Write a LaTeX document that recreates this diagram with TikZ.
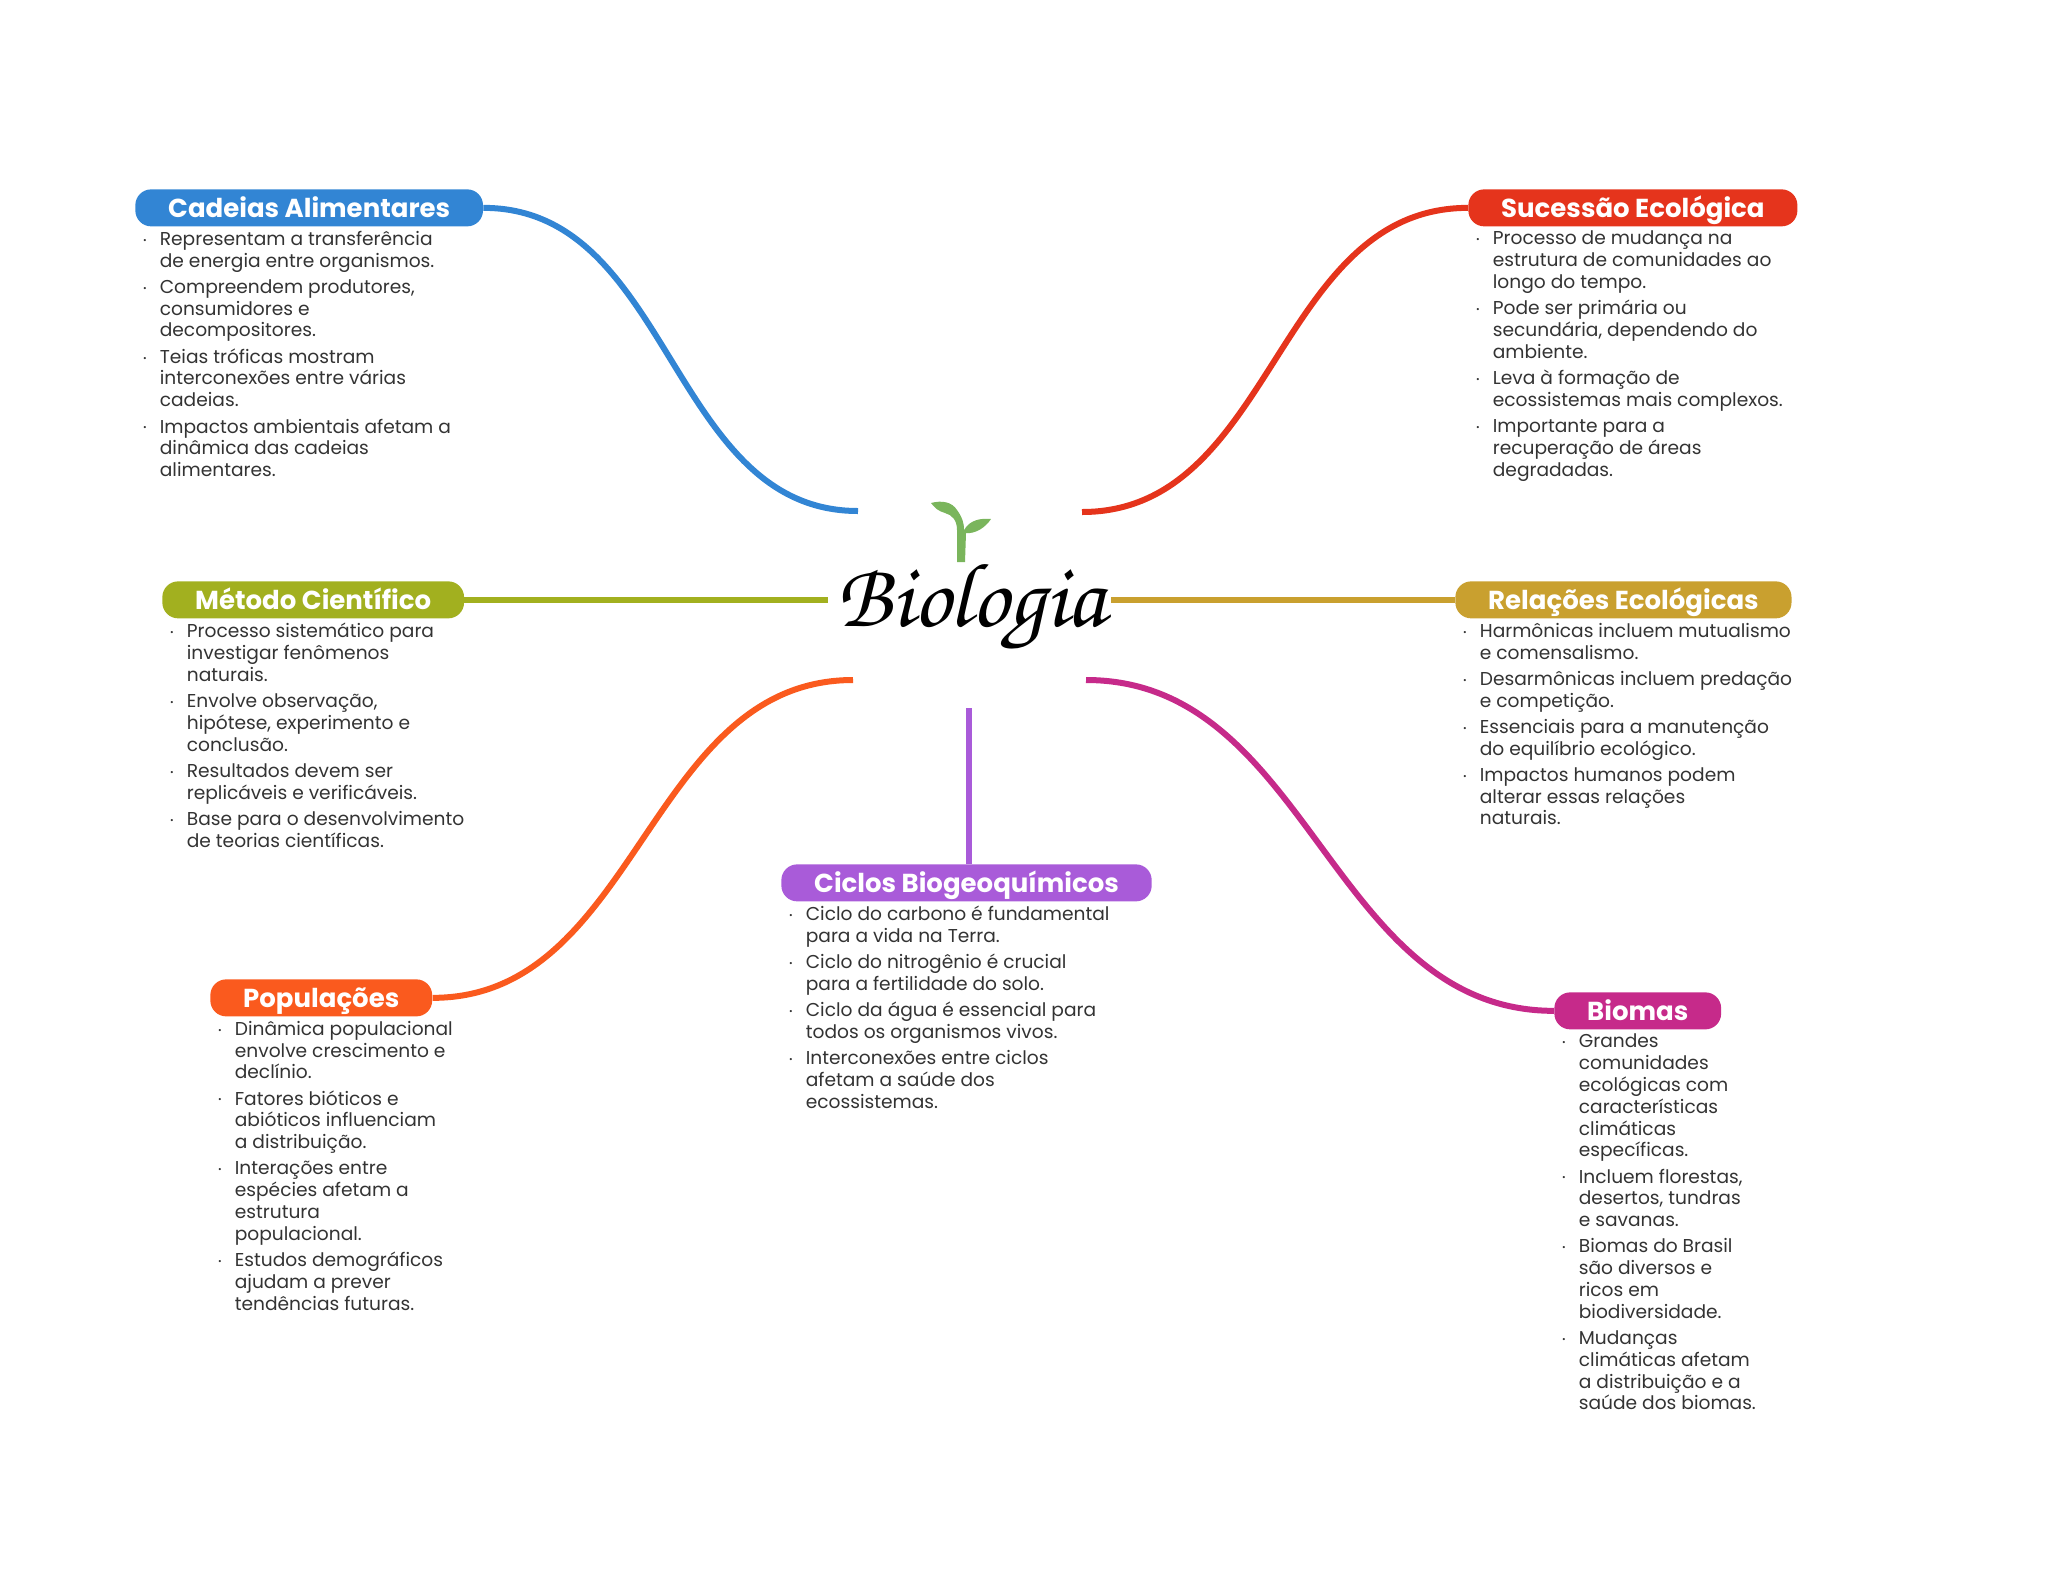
\documentclass[tikz,border=0pt]{standalone}
\usepackage{fontspec}
\setmainfont{Poppins}
\newfontfamily\tituloFont{TeX Gyre Chorus}
\usetikzlibrary{positioning}
\definecolor{cadeiasCol}{HTML}{3285D4}
\definecolor{sucessaoCol}{HTML}{E5341C}
\definecolor{metodoCol}{HTML}{A2B01F}
\definecolor{relacoesCol}{HTML}{C9A02F}
\definecolor{populacoesCol}{HTML}{FA5A1E}
\definecolor{biomasCol}{HTML}{C62A8A}
\definecolor{ciclosCol}{HTML}{A95BD9}
\definecolor{folhaCol}{HTML}{7AB55C}
\definecolor{corpoCol}{HTML}{333333}
\def\px{0.02cm}
\newcommand{\bl}{\llap{\raisebox{1.2pt}{\tiny•}\hspace{7.5pt}}}
\tikzset{
  pill/.style={rounded corners=9pt,inner xsep=18.7pt,inner ysep=0pt,minimum height=37*\px,
    text=white,font=\fontsize{14.8}{16}\selectfont\bfseries,anchor=north west,text height=10.5pt,text depth=0pt},
  corpo/.style={align=left,inner sep=0pt,anchor=north west,text=corpoCol,
    font=\fontsize{10.6}{12.4}\selectfont},
  ramo/.style={line width=6*\px}
}
\begin{document}
\begin{tikzpicture}[x=\px,y=-\px]
\useasboundingbox (0,0) rectangle (2048,1569);
% ---- centro ----
\node[inner sep=0pt,font=\tituloFont\fontsize{52}{56}\selectfont] (centro) at (971,607) {Biologia};
\fill[folhaCol] (957,562) -- (957,530) .. controls (957,520) and (952,515) .. (945,513)
  .. controls (938,511) and (935,508) .. (931,503) .. controls (942,500) and (952,502) .. (957,510)
  .. controls (962,517) and (964,522) .. (964,530) .. controls (970,520) and (980,518) .. (991,519)
  .. controls (985,528) and (975,534) .. (966,533) -- (965,562) -- cycle;
% ---- titulos ----
\node[pill,fill=cadeiasCol] (cadeias) at (135,189) {Cadeias Alimentares};
\node[pill,fill=sucessaoCol] (sucessao) at (1468,189) {Sucessão Ecológica};
\node[pill,fill=metodoCol] (metodo) at (162,581) {Método Científico};
\node[pill,fill=relacoesCol] (relacoes) at (1455,581) {Relações Ecológicas};
\node[pill,fill=populacoesCol] (populacoes) at (210,979) {Populações};
\node[pill,fill=biomasCol] (biomas) at (1554,992) {Biomas};
\node[pill,fill=ciclosCol] (ciclos) at (781,864) {Ciclos Biogeoquímicos};
% ---- textos ----
\node[corpo] (cadeiasTxt) at ([shift={(24.5,4)}]cadeias.south west) {%
  \bl Representam a transferência\\de energia entre organismos.\\[2.55pt]
  \bl Compreendem produtores,\\consumidores e\\decompositores.\\[2.55pt]
  \bl Teias tróficas mostram\\interconexões entre várias\\cadeias.\\[2.55pt]
  \bl Impactos ambientais afetam a\\dinâmica das cadeias\\alimentares.};
\node[corpo] (sucessaoTxt) at ([shift={(24.5,4)}]sucessao.south west) {%
  \bl Processo de mudança na\\estrutura de comunidades ao\\longo do tempo.\\[2.55pt]
  \bl Pode ser primária ou\\secundária, dependendo do\\ambiente.\\[2.55pt]
  \bl Leva à formação de\\ecossistemas mais complexos.\\[2.55pt]
  \bl Importante para a\\recuperação de áreas\\degradadas.};
\node[corpo] (metodoTxt) at ([shift={(24.5,4)}]metodo.south west) {%
  \bl Processo sistemático para\\investigar fenômenos\\naturais.\\[2.55pt]
  \bl Envolve observação,\\hipótese, experimento e\\conclusão.\\[2.55pt]
  \bl Resultados devem ser\\replicáveis e verificáveis.\\[2.55pt]
  \bl Base para o desenvolvimento\\de teorias científicas.};
\node[corpo] (relacoesTxt) at ([shift={(24.5,4)}]relacoes.south west) {%
  \bl Harmônicas incluem mutualismo\\e comensalismo.\\[2.55pt]
  \bl Desarmônicas incluem predação\\e competição.\\[2.55pt]
  \bl Essenciais para a manutenção\\do equilíbrio ecológico.\\[2.55pt]
  \bl Impactos humanos podem\\alterar essas relações\\naturais.};
\node[corpo] (populacoesTxt) at ([shift={(24.5,4)}]populacoes.south west) {%
  \bl Dinâmica populacional\\envolve crescimento e\\declínio.\\[2.55pt]
  \bl Fatores bióticos e\\abióticos influenciam\\a distribuição.\\[2.55pt]
  \bl Interações entre\\espécies afetam a\\estrutura\\populacional.\\[2.55pt]
  \bl Estudos demográficos\\ajudam a prever\\tendências futuras.};
\node[corpo] (biomasTxt) at ([shift={(24.5,4)}]biomas.south west) {%
  \bl Grandes\\comunidades\\ecológicas com\\características\\climáticas\\específicas.\\[2.55pt]
  \bl Incluem florestas,\\desertos, tundras\\e savanas.\\[2.55pt]
  \bl Biomas do Brasil\\são diversos e\\ricos em\\biodiversidade.\\[2.55pt]
  \bl Mudanças\\climáticas afetam\\a distribuição e a\\saúde dos biomas.};
\node[corpo] (ciclosTxt) at ([shift={(24.5,4)}]ciclos.south west) {%
  \bl Ciclo do carbono é fundamental\\para a vida na Terra.\\[2.55pt]
  \bl Ciclo do nitrogênio é crucial\\para a fertilidade do solo.\\[2.55pt]
  \bl Ciclo da água é essencial para\\todos os organismos vivos.\\[2.55pt]
  \bl Interconexões entre ciclos\\afetam a saúde dos\\ecossistemas.};
% ---- ramos ----
\coordinate (pCadeias) at (858,511);
\coordinate (pSucessao) at (1082,512);
\coordinate (pMetodo) at (828,599);
\coordinate (pRelacoes) at (1111,599);
\coordinate (pPopulacoes) at (853,680);
\coordinate (pBiomas) at (1086,680);
\coordinate (pCiclos) at (969,708);
\draw[ramo,cadeiasCol] (cadeias.east) to[out=0,in=180] (pCadeias);
\draw[ramo,sucessaoCol] (sucessao.west) to[out=180,in=0] (pSucessao);
\draw[ramo,metodoCol] (metodo.east) -- (metodo.east -| pMetodo);
\draw[ramo,relacoesCol] (relacoes.west) -- (relacoes.west -| pRelacoes);
\draw[ramo,populacoesCol] (populacoes.east) to[out=0,in=180] (pPopulacoes);
\draw[ramo,biomasCol] (biomas.west) to[out=180,in=0] (pBiomas);
\draw[ramo,ciclosCol] (ciclos.north -| pCiclos) -- (pCiclos);
\end{tikzpicture}
\end{document}
